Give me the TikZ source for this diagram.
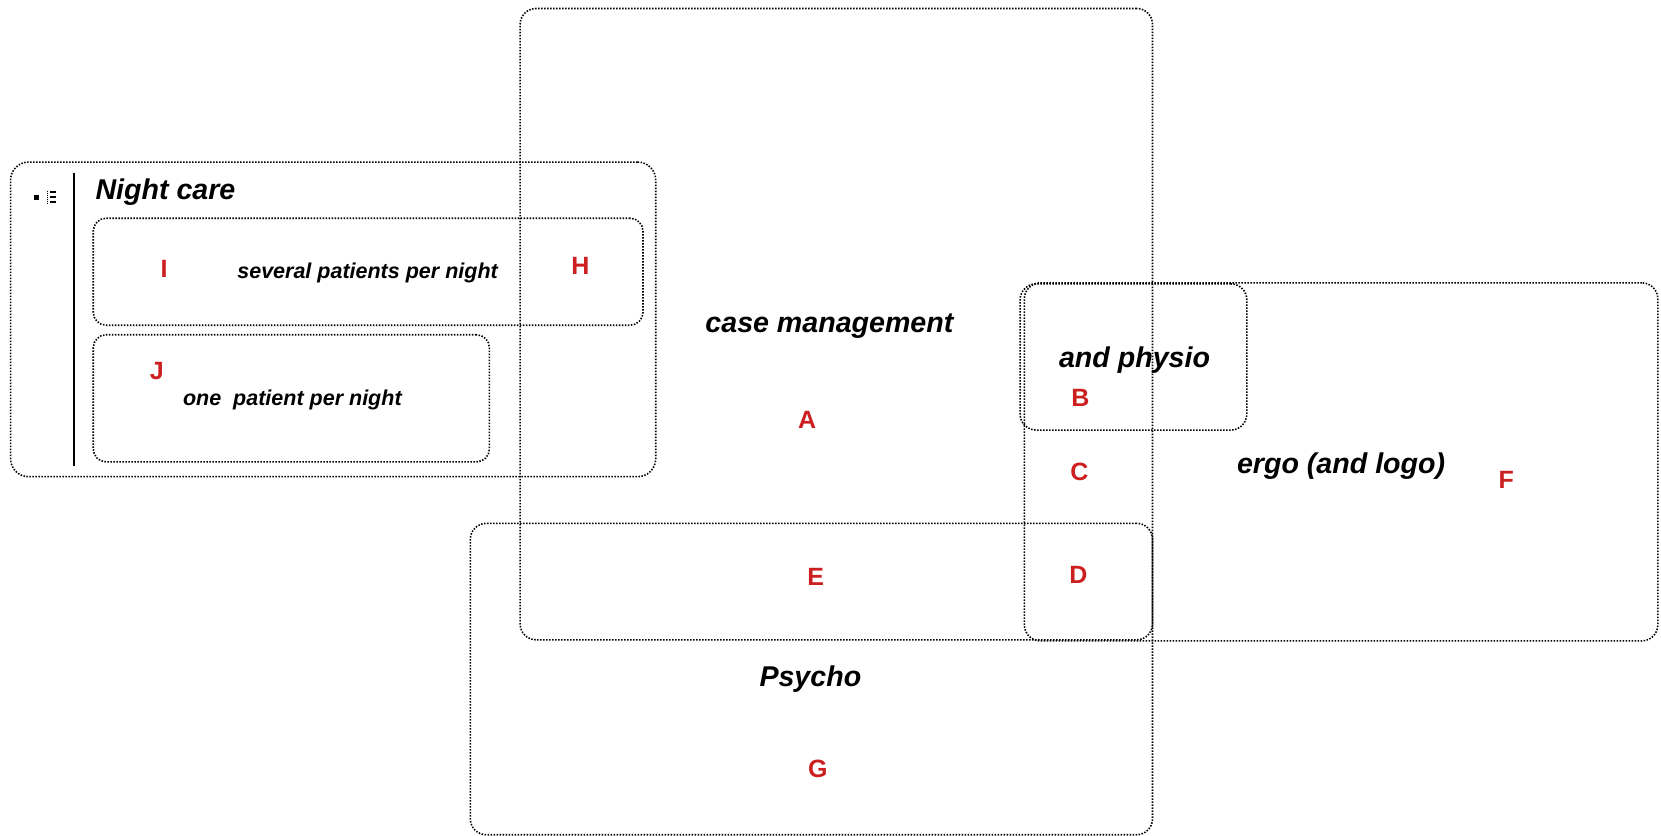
\documentclass[tikz,border=0pt]{standalone}
\usepackage{fontspec}
\setmainfont{Liberation Sans}
\usetikzlibrary{fit}
\definecolor{lettred}{RGB}{204,32,32}
\tikzset{
  region/.style={draw=black, line width=1.6pt, dash pattern=on 1.5pt off 1.5pt,
    rounded corners=16pt, inner sep=0pt},
  subregion/.style={region, rounded corners=13pt},
  title/.style={font=\fontsize{28.6}{34}\selectfont\bfseries\itshape, inner sep=0pt},
  small/.style={font=\fontsize{21.5}{26}\selectfont\bfseries\itshape, inner sep=0pt},
  letter/.style={font=\fontsize{25}{30}\selectfont\bfseries, text=lettred, inner sep=0pt},
}
\begin{document}
\begin{tikzpicture}[x=1.0593pt, y=-1.0593pt]
\useasboundingbox (0,0) rectangle (1568,789);

% overlapping areas of care
\node[region, fit={(491,8) (1088,604)}] (casemgmt) {};
\node[region, rounded corners=18pt, fit={(10,153) (619,450)}] (night) {};
\node[subregion, fit={(88,206) (607,307)}] (several) {};
\node[subregion, fit={(88,316) (462,436)}] (onepat) {};
\node[region, fit={(963,268) (1177,406)}] (physio) {};
\node[region, fit={(967,267) (1565,605)}] (ergo) {};
\node[region, fit={(444,494) (1088,788)}] (psycho) {};

% side bar and collapse icon of the night-care group
\draw[line width=1.8pt] (70,163) -- (70,440);
\fill (32,184) rectangle (37,189);
\draw[line width=0.8pt, dash pattern=on 1pt off 1pt] (45,180) -- (45,193);
\foreach \yy in {181,186,191} \draw[line width=1.8pt] (47,\yy) -- (53,\yy);

% labels
\node[title, anchor=west] (tnight) at (90,181) {Night care};
\node[small] (tseveral) at (347,258) {several patients per night};
\node[small] (tone) at (276,378) {one\ \ patient per night};
\node[title] (tcase) at (783,308) {case management};
\node[title] (tphysio) at (1071,340) {and physio};
\node[title] (tergo) at (1266,440) {ergo (and logo)};
\node[title] (tpsycho) at (765,641) {Psycho};

% region letters
\node[letter] (lA) at (762,396) {A};
\node[letter] (lB) at (1020,376) {B};
\node[letter] (lC) at (1019,445) {C};
\node[letter] (lD) at (1018,543) {D};
\node[letter] (lE) at (770,545) {E};
\node[letter] (lF) at (1422,453) {F};
\node[letter] (lG) at (772,726) {G};
\node[letter] (lH) at (548,251) {H};
\node[letter] (lI) at (155,254) {I};
\node[letter] (lJ) at (148,350) {J};
\end{tikzpicture}
\end{document}
